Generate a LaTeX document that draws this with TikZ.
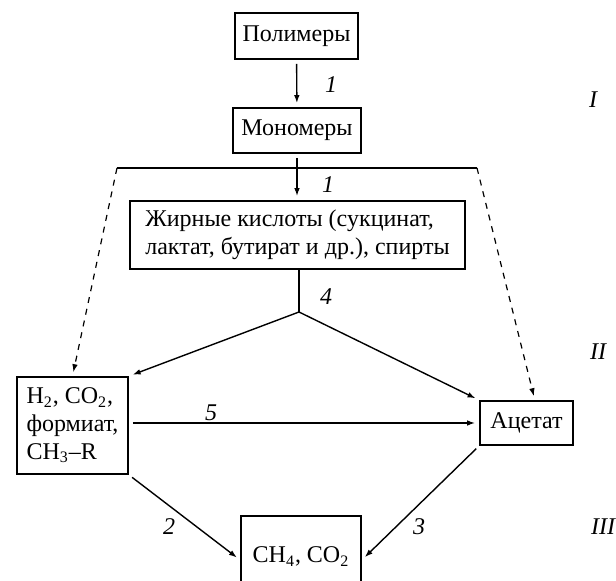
\documentclass[tikz,border=0pt]{standalone}
\usepackage{fontspec}
\setmainfont{Liberation Serif}
\usetikzlibrary{arrows.meta,calc}

\begin{document}
\begin{tikzpicture}[x=0.5pt, y=-0.5pt, >={Latex[length=4pt,width=2.8pt]},
    box/.style={draw, line width=0.9pt, inner sep=0pt, font=\fontsize{12}{13.8}\selectfont},
    num/.style={font=\fontsize{12}{13.8}\selectfont\itshape},
    flow/.style={->, line width=0.7pt, shorten >=2pt, shorten <=2pt}]
    \useasboundingbox (0,0) rectangle (616,581);
    \node[box, minimum width=61.5pt, minimum height=23pt] (poly) at (296.5,36) {Полимеры};
    \node[box, minimum width=64pt, minimum height=22.5pt] (mono) at (297,130.5) {Мономеры};
    \node[box, minimum width=167.5pt, minimum height=34pt, align=left] (fatty) at (297.5,235) {Жирные кислоты (сукцинат,\\лактат, бутират и др.), спирты};
    \node[box, minimum width=55.5pt, minimum height=48.5pt, align=left] (hyd) at (72.5,425.5) {H\textsubscript{2}, CO\textsubscript{2},\\формиат,\\CH\textsubscript{3}--R};
    \node[box, minimum width=46.5pt, minimum height=22pt] (acet) at (526.5,423) {Ацетат};
    \node[box, minimum width=60pt, minimum height=44pt, text depth=5pt] (meth) at (301,560) {CH\textsubscript{4}, CO\textsubscript{2}};

    \coordinate (barL) at (117,168);
    \coordinate (barR) at (477,168);
    \coordinate (fork) at (299,312);

    \draw[flow] (poly) -- (mono);
    \draw[flow] (mono.south) -- (mono.south |- fatty.north);
    \draw[line width=0.6pt] (barL) -- (barR);
    \draw[flow, dashed, line width=0.6pt, shorten <=0pt] (barL) -- (hyd.north);
    \draw[flow, dashed, line width=0.6pt, shorten <=0pt] (barR) -- (acet.70);
    \draw[line width=0.7pt] (fatty.south -| fork) -- (fork);
    \draw[flow, shorten <=0pt] (fork) -- (hyd.north east);
    \draw[flow, shorten <=0pt] (fork) -- (acet.north west);
    \draw[flow] (hyd.east |- acet.west) -- (acet.west);
    \draw[flow] (hyd.south east) -- (meth.west);
    \draw[flow] (acet.south west) -- (meth.east);

    \node[num] (l1a) at (331,85) {1};
    \node[num] (l1b) at (328,185) {1};
    \node[num] (l4) at (326,297) {4};
    \node[num] (l5) at (211,413) {5};
    \node[num] (l2) at (169,527) {2};
    \node[num] (l3) at (419,527) {3};
    \node[num] (st1) at (593,100) {I};
    \node[num] (st2) at (598,352) {II};
    \node[num] (st3) at (603,527) {III};
\end{tikzpicture}
\end{document}
